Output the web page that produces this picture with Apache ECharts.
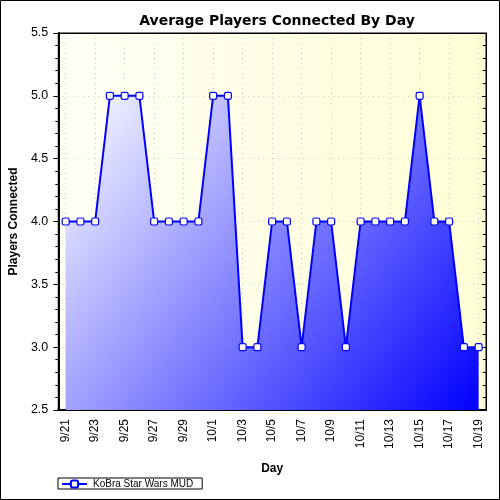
<!DOCTYPE html>
<html>
<head>
<meta charset="utf-8">
<script src="https://cdn.jsdelivr.net/npm/echarts@6/dist/echarts.min.js"></script>
<style>
  html, body { margin: 0; padding: 0; background: #fff; }
  #chart { width: 500px; height: 500px; }
</style>
</head>
<body>
<div id="chart"></div>
<script>
// days on the x axis
var days = ['9/21', '9/22', '9/23', '9/24', '9/25', '9/26', '9/27', '9/28', '9/29', '9/30',
  '10/1', '10/2', '10/3', '10/4', '10/5', '10/6', '10/7', '10/8', '10/9', '10/10',
  '10/11', '10/12', '10/13', '10/14', '10/15', '10/16', '10/17', '10/18', '10/19'];
// average players per day
var players = [4, 4, 4, 5, 5, 5, 4, 4, 4, 4,
  5, 5, 3, 3, 4, 4, 3, 4, 4, 3,
  4, 4, 4, 4, 5, 4, 4, 3, 3];

var font = 'Liberation Sans, Arial, sans-serif';
var myChart = echarts.init(document.getElementById('chart'));

var option = {
  backgroundColor: '#fff',
  animation: false,
  textStyle: { fontFamily: font },
  title: {
    text: 'Average Players Connected By Day',
    left: 272,
    top: 9,
    textAlign: 'center',
    textStyle: { fontFamily: 'DejaVu Sans, Verdana, sans-serif', fontSize: 14, fontWeight: 'bold', color: '#000' }
  },
  graphic: [{
    type: 'rect',
    shape: { x: 0.5, y: 0.5, width: 499, height: 499 },
    style: { fill: 'none', stroke: '#000', lineWidth: 1 },
    z: 100
  }],
  legend: {
    left: 58,
    top: 478,
    padding: [1, 9, 0, 3],
    itemGap: 0,
    itemWidth: 25,
    itemHeight: 9,
    borderColor: '#000',
    borderWidth: 1,
    borderRadius: 0,
    textStyle: { fontFamily: font, fontSize: 10, color: '#000', padding: [0, 0, 0, 1] }
  },
  grid: {
    left: 58,
    right: 14,
    top: 33,
    bottom: 90,
    show: true,
    borderColor: '#000',
    borderWidth: 1,
    backgroundColor: new echarts.graphic.LinearGradient(0, 0, 1, 0, [
      { offset: 0, color: '#fffff6' },
      { offset: 1, color: '#ffffd6' }
    ])
  },
  xAxis: [{
    type: 'category',
    position: 'bottom',
    data: days,
    boundaryGap: true,
    name: 'Day',
    nameLocation: 'middle',
    nameGap: 53,
    nameTextStyle: { fontFamily: font, fontSize: 12, fontWeight: 'bold', color: '#000' },
    axisLine: { lineStyle: { color: '#000', width: 2 } },
    axisTick: { interval: 0, alignWithLabel: true, length: 4, lineStyle: { color: '#000' } },
    axisLabel: { interval: 1, rotate: 90, margin: 9, fontSize: 12, color: '#000', fontFamily: font },
    splitLine: {
      show: true, interval: 1, alignWithLabel: true,
      lineStyle: { color: '#c8c8c8', type: [1, 4], width: 1 }
    }
  }, {
    type: 'category',
    position: 'top',
    data: days,
    boundaryGap: true,
    axisLine: { lineStyle: { color: '#000', width: 1 } },
    axisTick: { interval: 0, alignWithLabel: true, inside: true, length: 3, lineStyle: { color: '#000' } },
    axisLabel: { show: false },
    splitLine: { show: false }
  }],
  yAxis: [{
    type: 'value',
    position: 'left',
    min: 2.5,
    max: 5.5,
    interval: 0.5,
    name: 'Players Connected',
    nameLocation: 'middle',
    nameGap: 37,
    nameRotate: 90,
    nameTextStyle: { fontFamily: font, fontSize: 12, fontWeight: 'bold', color: '#000' },
    axisLine: { show: true, lineStyle: { color: '#000', width: 2 } },
    axisTick: { show: true, length: 5, lineStyle: { color: '#000' } },
    minorTick: { show: true, splitNumber: 5, length: 3, lineStyle: { color: '#000' } },
    axisLabel: {
      fontSize: 12.5, color: '#000', fontFamily: font, margin: 10,
      formatter: function (v) { return v.toFixed(1); }
    },
    splitLine: { show: true, lineStyle: { color: '#c8c8c8', type: [1, 4], width: 1 } }
  }, {
    type: 'value',
    position: 'right',
    min: 2.5,
    max: 5.5,
    interval: 0.5,
    axisLine: { show: true, lineStyle: { color: '#000', width: 1 } },
    axisTick: { show: true, inside: true, length: 4, lineStyle: { color: '#000' } },
    minorTick: { show: true, splitNumber: 5, length: 3, lineStyle: { color: '#000' } },
    axisLabel: { show: false },
    splitLine: { show: false }
  }],
  series: [{
    name: 'KoBra Star Wars MUD',
    type: 'line',
    data: players,
    symbol: 'roundRect',
    symbolSize: 7,
    showAllSymbol: true,
    lineStyle: { color: '#0000ff', width: 2 },
    itemStyle: { color: '#ffffff', borderColor: '#0000ff', borderWidth: 1.2 },
    areaStyle: {
      origin: 'start',
      opacity: 1,
      color: new echarts.graphic.LinearGradient(0, 0, 1, 1, [
        { offset: 0, color: '#ffffff' },
        { offset: 1, color: '#0000ff' }
      ])
    },
    emphasis: { disabled: true }
  }]
};

option && myChart.setOption(option);
</script>
</body>
</html>
